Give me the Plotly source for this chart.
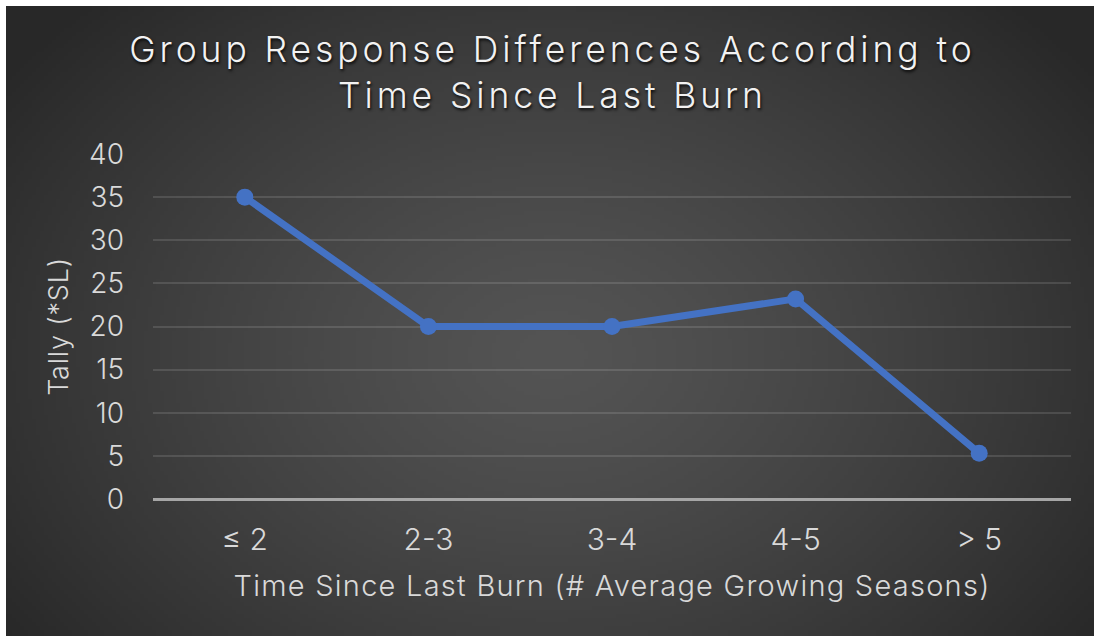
import base64, struct, zlib
import numpy as np
import plotly.graph_objects as go

categories = ["≤ 2", "2-3", "3-4", "4-5", "> 5"]
tally = [35, 20, 20, 23.2, 5.3]
y_ticks = [0, 5, 10, 15, 20, 25, 30, 35, 40]

# ---- background radial gradient (style only) ----
W, H = 272, 158
yy, xx = np.mgrid[0:H, 0:W]
cx, cy = W * 0.50, H * 0.55
d = np.sqrt(((xx - cx) / (W * 0.62)) ** 2 + ((yy - cy) / (H * 0.78)) ** 2)
d = np.clip(d, 0, 1)
inner, outer = 84.0, 40.0
val = inner + (outer - inner) * d ** 1.3
img = np.clip(val, 0, 255).astype(np.uint8)
raw = b"".join(b"\x00" + bytes(np.repeat(row, 3)) for row in img)
def chunk(t, data):
    c = struct.pack(">I", len(data)) + t + data
    return c + struct.pack(">I", zlib.crc32(t + data) & 0xffffffff)
png = b"\x89PNG\r\n\x1a\n" + chunk(b"IHDR", struct.pack(">IIBBBBB", W, H, 8, 2, 0, 0, 0)) \
      + chunk(b"IDAT", zlib.compress(raw, 9)) + chunk(b"IEND", b"")
uri = "data:image/png;base64," + base64.b64encode(png).decode()

FONT = "Inter"
WT = 300
TXT = "#d9d9d9"
L, R, T, B = 153, 23, 154, 137
pw, ph = 1094 - L - R, 636 - T - B

fig = go.Figure()
fig.add_trace(go.Scatter(
    x=categories, y=tally, mode="lines+markers",
    line=dict(color="#4472C4", width=7),
    marker=dict(color="#4472C4", size=17),
    showlegend=False, hoverinfo="x+y",
))

fig.update_layout(
    width=1094, height=636,
    margin=dict(l=L, r=R, t=T, b=B),
    paper_bgcolor="white",
    plot_bgcolor="rgba(0,0,0,0)",
    images=[dict(source=uri, xref="paper", yref="paper",
                 x=(6 - L) / pw, y=(636 - B - 6) / ph,
                 sizex=1088 / pw, sizey=630 / ph,
                 xanchor="left", yanchor="top", sizing="stretch", layer="below")],
    title=dict(text="Group Response Differences According to<br>Time Since Last Burn",
               x=0.505, xanchor="center", y=1 - 62 / 636, yanchor="middle",
               font=dict(family=FONT, size=35.5, color="#f2f2f2", weight=WT,
                         shadow="1px 2px 3px rgba(0,0,0,0.85)")),
    font=dict(family=FONT, color=TXT, weight=WT),
    xaxis=dict(
        type="category", range=[-0.5, 4.5],
        showgrid=False, showline=False, zeroline=False, ticks="",
        ticklabelstandoff=20,
        tickfont=dict(size=30, color=TXT, family=FONT, weight=WT),
        title=dict(text="Time Since Last Burn (# Average Growing Seasons)",
                   font=dict(size=29, color=TXT, family=FONT, weight=WT),
                   standoff=19),
    ),
    yaxis=dict(
        range=[0, 40], tickvals=y_ticks,
        showgrid=True, gridcolor="rgba(255,255,255,0.12)", gridwidth=1.5,
        zeroline=True, zerolinecolor="#a6a6a6", zerolinewidth=3,
        showline=False, ticks="",
        ticklabelstandoff=28,
        tickfont=dict(size=28, color=TXT, family=FONT, weight=WT),
        title=dict(text="Tally (*SL)",
                   font=dict(size=27, color=TXT, family=FONT, weight=WT),
                   standoff=12),
    ),
)

post = """
document.body.style.margin = '0';
document.documentElement.style.margin = '0';
function sp(sel, v){ document.querySelectorAll(sel).forEach(function(t){ t.style.letterSpacing = v; }); }
sp('.gtitle', '3.9px');
sp('.xtitle', '1.25px');
sp('.ytitle', '0.8px');
"""

fig.write_html("out.html", post_script=post, config={"displayModeBar": False})
